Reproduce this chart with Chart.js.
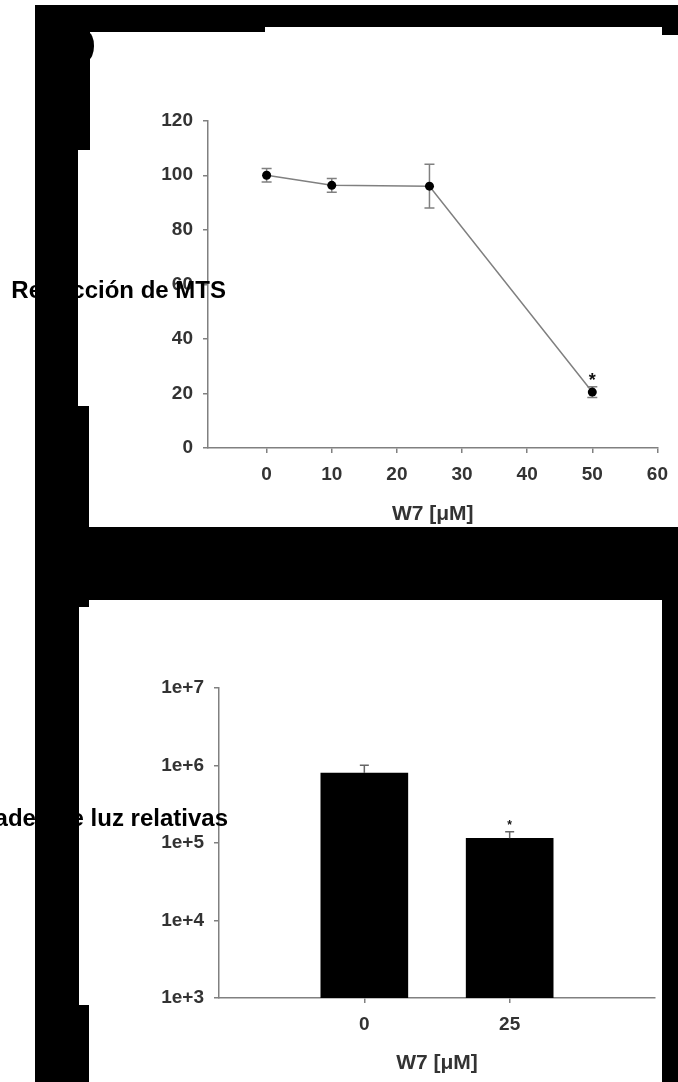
<!DOCTYPE html>
<html>
<head>
<meta charset="utf-8">
<script src="https://cdn.jsdelivr.net/npm/chart.js@4.4.1/dist/chart.umd.min.js"></script>
<style>
  html, body { margin: 0; padding: 0; background: #fff; }
  body { width: 678px; height: 1082px; position: relative; overflow: hidden; font-family: "Liberation Sans", Arial, sans-serif; }
  canvas { position: absolute; z-index: 1; }
  .ylab { position: absolute; z-index: 2; font-weight: bold; font-size: 24px; line-height: 24px; white-space: nowrap; text-align: right; color: #000; }
  .blk { position: absolute; z-index: 3; background: #000; }
</style>
</head>
<body>
<canvas id="mts" width="588" height="487" style="left:90px; top:40px;"></canvas>
<canvas id="luc" width="572" height="462" style="left:90px; top:620px;"></canvas>

<div class="ylab" style="right:452px; top:278px;">Reducción de MTS</div>
<div class="ylab" style="right:450px; top:806px;">Unidades de luz relativas</div>

<!-- black mask around the panels -->
<div class="blk" style="left:35px; top:5px; width:643px; height:22px;"></div>
<div class="blk" style="left:35px; top:27px; width:230px; height:5px;"></div>
<div class="blk" style="left:662px; top:27px; width:16px; height:8px;"></div>
<div class="blk" style="left:35px; top:5px; width:55px; height:145px;"></div>
<div class="blk" style="left:81px; top:32px; width:13px; height:28px; border-radius:50%;"></div>
<div class="blk" style="left:35px; top:150px; width:43px; height:256px;"></div>
<div class="blk" style="left:35px; top:406px; width:54px; height:121px;"></div>
<div class="blk" style="left:35px; top:527px; width:643px; height:73px;"></div>
<div class="blk" style="left:35px; top:600px; width:54px; height:7px;"></div>
<div class="blk" style="left:35px; top:607px; width:44px; height:398px;"></div>
<div class="blk" style="left:35px; top:1005px; width:54px; height:77px;"></div>
<div class="blk" style="left:662px; top:600px; width:16px; height:482px;"></div>

<script>
// Top panel: MTS reduction vs W7 dose
const w7Doses = [0, 10, 25, 50];
const mtsValues = [100, 96.3, 96, 20.5];
const mtsErrors = [2.5, 2.5, 8, 2];
const mtsSignificant = [false, false, false, true];
const mtsXTicks = [0, 10, 20, 30, 40, 50, 60];
const mtsYTicks = [0, 20, 40, 60, 80, 100, 120];

// Bottom panel: relative light units
const lucCategories = ['0', '25'];
const lucValues = [8.0e5, 1.15e5];
const lucErrors = [2.1e5, 2.5e4];
const lucSignificant = [false, true];
const lucYTicks = [1e3, 1e4, 1e5, 1e6, 1e7];

const family = "'Liberation Sans', Arial, sans-serif";
const tickFont = { family, size: 19, weight: 'bold' };
const titleFont = { family, size: 21, weight: 'bold' };
const axisGray = '#808080';

function axisStyle() {
  return {
    grid: { drawOnChartArea: false, offset: false, color: axisGray, lineWidth: 1.5, tickLength: 5 },
    border: { color: axisGray, width: 1.5 }
  };
}

// error bars + significance stars
function errorBars(values, errors, significant, opts) {
  return {
    id: 'errorBars',
    [opts.hook]: (chart) => {
      const ctx = chart.ctx;
      const meta = chart.getDatasetMeta(0);
      const yScale = chart.scales.y;
      ctx.save();
      ctx.strokeStyle = opts.color;
      ctx.lineWidth = 1.5;
      meta.data.forEach((el, i) => {
        const x = el.x;
        const top = yScale.getPixelForValue(values[i] + errors[i]);
        const bottom = opts.upOnly ? el.y : yScale.getPixelForValue(values[i] - errors[i]);
        ctx.beginPath();
        ctx.moveTo(x, bottom);
        ctx.lineTo(x, top);
        ctx.moveTo(x - opts.cap, top);
        ctx.lineTo(x + opts.cap, top);
        if (!opts.upOnly) {
          ctx.moveTo(x - opts.cap, bottom);
          ctx.lineTo(x + opts.cap, bottom);
        }
        ctx.stroke();
        if (significant[i]) {
          ctx.fillStyle = '#111';
          ctx.font = opts.starFont;
          ctx.textAlign = 'center';
          ctx.textBaseline = 'alphabetic';
          ctx.fillText('*', x, top + opts.starShift);
        }
      });
      ctx.restore();
    }
  };
}

new Chart(document.getElementById('mts'), {
  type: 'line',
  data: {
    datasets: [{
      data: w7Doses.map((x, i) => ({ x, y: mtsValues[i] })),
      borderColor: axisGray,
      borderWidth: 1.5,
      tension: 0,
      pointRadius: 4.5,
      pointBackgroundColor: '#000',
      pointBorderColor: '#000',
      pointBorderWidth: 0
    }]
  },
  options: {
    responsive: false,
    animation: false,
    layout: { padding: { left: 0, top: 80.7, right: 15, bottom: 0 } },
    plugins: { legend: { display: false }, tooltip: { enabled: false } },
    scales: {
      x: {
        type: 'linear', min: -9, max: 60,
        ...axisStyle(),
        afterBuildTicks: s => { s.ticks = mtsXTicks.map(v => ({ value: v })); },
        afterFit: s => { s.height = 79; },
        ticks: { color: '#333', padding: 10, font: tickFont, maxRotation: 0, autoSkip: false },
        title: { display: true, text: 'W7 [μM]', color: '#333', font: titleFont, padding: { top: 0, bottom: 0 } }
      },
      y: {
        min: 0, max: 120,
        ...axisStyle(),
        afterBuildTicks: s => { s.ticks = mtsYTicks.map(v => ({ value: v })); },
        afterFit: s => { s.width = 118; },
        ticks: { color: '#333', padding: 10, font: tickFont }
      }
    }
  },
  plugins: [errorBars(mtsValues, mtsErrors, mtsSignificant, {
    hook: 'beforeDatasetsDraw', color: axisGray, cap: 5, upOnly: false,
    starFont: "bold 18px 'Liberation Sans', Arial, sans-serif", starShift: -1
  })]
});

new Chart(document.getElementById('luc'), {
  type: 'bar',
  data: {
    datasets: [{
      data: lucCategories.map((c, i) => ({ x: i, y: lucValues[i] })),
      backgroundColor: '#000',
      borderWidth: 0,
      barThickness: 87
    }]
  },
  options: {
    responsive: false,
    animation: false,
    layout: { padding: { left: 0, top: 68, right: 7, bottom: 0 } },
    plugins: { legend: { display: false }, tooltip: { enabled: false } },
    scales: {
      x: {
        type: 'linear', min: -1, max: 2, offset: false,
        ...axisStyle(),
        afterBuildTicks: s => { s.ticks = lucCategories.map((c, i) => ({ value: i })); },
        afterFit: s => { s.height = 84; },
        ticks: { color: '#333', padding: 10, font: tickFont, maxRotation: 0, autoSkip: false,
                 callback: v => lucCategories[v] },
        title: { display: true, text: 'W7 [μM]', color: '#333', font: titleFont, padding: { top: 0, bottom: 6.4 } }
      },
      y: {
        type: 'logarithmic', min: 1e3, max: 1e7,
        ...axisStyle(),
        afterBuildTicks: s => { s.ticks = lucYTicks.map(v => ({ value: v })); },
        afterFit: s => { s.width = 129; },
        ticks: { color: '#333', padding: 10, font: tickFont,
                 callback: v => '1e+' + Math.round(Math.log10(v)) }
      }
    }
  },
  plugins: [errorBars(lucValues, lucErrors, lucSignificant, {
    hook: 'afterDatasetsDraw', color: '#666', cap: 4.5, upOnly: true,
    starFont: "bold 12px 'Liberation Sans', Arial, sans-serif", starShift: -3
  })]
});
</script>
</body>
</html>
